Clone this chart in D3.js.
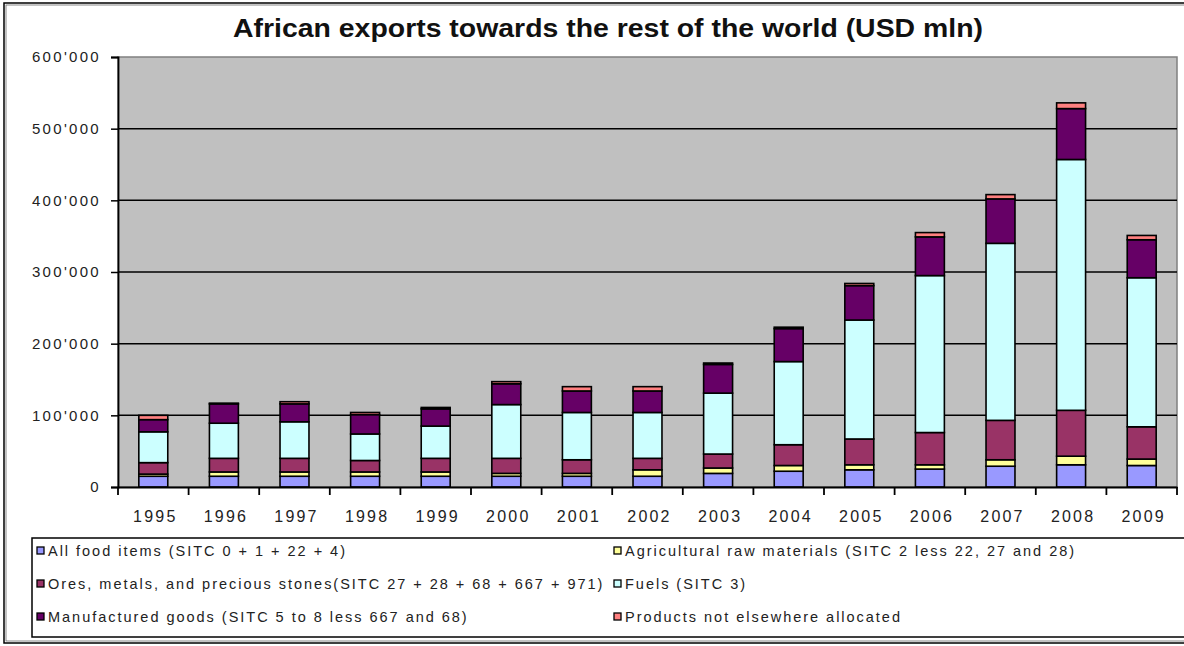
<!DOCTYPE html>
<html><head><meta charset="utf-8">
<script src="https://cdn.jsdelivr.net/npm/d3@7"></script>
<style>body{margin:0;background:#fff}svg{display:block}text{font-family:"Liberation Sans",Arial,sans-serif}</style>
</head><body>
<svg id="c" width="1184" height="646"></svg>
<script>
const title = "African exports towards the rest of the world (USD mln)";
const years = ["1995","1996","1997","1998","1999","2000","2001","2002","2003","2004","2005","2006","2007","2008","2009"];
const seriesNames = ["All food items (SITC 0 + 1 + 22 + 4)","Agricultural raw materials (SITC 2 less 22, 27 and 28)","Ores, metals, and precious stones(SITC 27 + 28 + 68 + 667 + 971)","Fuels (SITC 3)","Manufactured goods (SITC 5 to 8 less 667 and 68)","Products not elsewhere allocated"];
const seriesColors = ["#9999FF","#FFFF99","#993366","#CCFFFF","#660066","#FF8080"];
// values in thousands of USD mln
const food     = [15,15,15,15,15,15,15,15,19,22,24,25,29,31,30];
const agri     = [3,6,6,6,6,4,4,9,7.5,8,7,6,9,12,9];
const ores     = [16,19,19,16,19,21,19,16,19.5,29,36,45,55,64,45];
const fuels    = [43,49,51,37,45,75,66,64,85,116,166,219,247,350,208];
const manuf    = [17,27,25,27,24,29,30,30,40,46,48,54,62,71,53];
const products = [6,1,3,3,2,3,6,6,2,2,3,6,6,8,6];
const yTicks = [0,100000,200000,300000,400000,500000,600000];

const series = [food,agri,ores,fuels,manuf,products];
const rows = years.map((y,i)=>{const r={year:y}; series.forEach((s,k)=>r["s"+k]=s[i]*1000); return r;});
const keys = series.map((s,k)=>"s"+k);
const stacked = d3.stack().keys(keys)(rows);

const svg = d3.select("#c");
const L=118, R=1177, T=57, B=487;
const x = d3.scaleBand().domain(years).range([L,R]).padding(0);
const y = d3.scaleLinear().domain([0,600000]).range([B,T]);

// outer border
svg.append("rect").attr("x",4).attr("y",3).attr("width",1190).attr("height",640).attr("fill","none").attr("stroke","#000").attr("stroke-width",1.5);
svg.append("rect").attr("x",6).attr("y",5).attr("width",1190).attr("height",636).attr("fill","none").attr("stroke","#555").attr("stroke-width",0.7);

// title
svg.append("text").attr("x",608).attr("y",37).attr("text-anchor","middle").attr("font-size",26).attr("font-weight","bold").attr("fill","#111")
  .style("font-family","'Liberation Sans Narrow','Arial Narrow','Liberation Sans',sans-serif")
  .attr("textLength",750).attr("lengthAdjust","spacingAndGlyphs").text(title);

// plot area
svg.append("rect").attr("x",L).attr("y",T).attr("width",R-L).attr("height",B-T).attr("fill","#C0C0C0").attr("stroke","#808080").attr("stroke-width",1.5);

// gridlines
svg.append("g").selectAll("line").data(yTicks.filter(d=>d>0&&d<600000)).join("line")
  .attr("x1",L).attr("x2",R).attr("y1",d=>y(d)).attr("y2",d=>y(d)).attr("stroke","#000").attr("stroke-width",1.5);

// bars
const bw = x.bandwidth()*0.41;
svg.append("g").selectAll("g").data(stacked).join("g").attr("fill",(d,i)=>seriesColors[i])
  .selectAll("rect").data(d=>d).join("rect")
  .attr("x",d=>x(d.data.year)+x.bandwidth()/2-bw/2).attr("width",bw)
  .attr("y",d=>y(d[1])).attr("height",d=>y(d[0])-y(d[1]))
  .attr("stroke","#000").attr("stroke-width",1.6);

// y axis
const fmt = v => v===0 ? "0" : d3.format(",")(v).replace(/,/g,"'");
const ya = svg.append("g").attr("transform",`translate(${L},0)`)
  .call(d3.axisLeft(y).tickValues(yTicks).tickFormat(fmt).tickSize(7).tickPadding(10));
ya.select(".domain").attr("stroke","#000").attr("stroke-width",1.8);
ya.selectAll(".tick line").attr("stroke","#000").attr("stroke-width",1.5);
ya.selectAll("text").attr("font-size",15).attr("letter-spacing","2.3px").attr("fill","#222").attr("font-family","Liberation Sans, Arial, sans-serif");

// x axis
const xa = svg.append("g").attr("transform",`translate(0,${B})`)
  .call(d3.axisBottom(x).tickSize(0).tickPadding(24));
xa.select(".domain").attr("stroke","#000").attr("stroke-width",1.8);
xa.selectAll("text").attr("font-size",16).attr("letter-spacing","2.2px").attr("dx","2").attr("fill","#222").attr("font-family","Liberation Sans, Arial, sans-serif");
const bounds = years.map(d=>x(d)).concat([R]);
svg.append("g").selectAll("line").data(bounds).join("line")
  .attr("x1",d=>d).attr("x2",d=>d).attr("y1",B).attr("y2",B+8).attr("stroke","#000").attr("stroke-width",1.8);

// legend
svg.append("rect").attr("x",32).attr("y",538).attr("width",1170).attr("height",99).attr("fill","none").attr("stroke","#000").attr("stroke-width",1.5);
const legOrder = [0,1,2,3,4,5];
const lg = svg.append("g").selectAll("g").data(legOrder).join("g")
  .attr("transform",(d,i)=>`translate(${i%2===0?37:614},${551+Math.floor(i/2)*33})`);
lg.append("rect").attr("x",0).attr("y",-4).attr("width",7).attr("height",7).attr("fill",d=>seriesColors[d]).attr("stroke","#000").attr("stroke-width",1.3);
lg.append("text").attr("x",11).attr("y",5).attr("font-size",14.5).attr("letter-spacing","1.98px").attr("fill","#222").text(d=>seriesNames[d]);
</script>
</body></html>
